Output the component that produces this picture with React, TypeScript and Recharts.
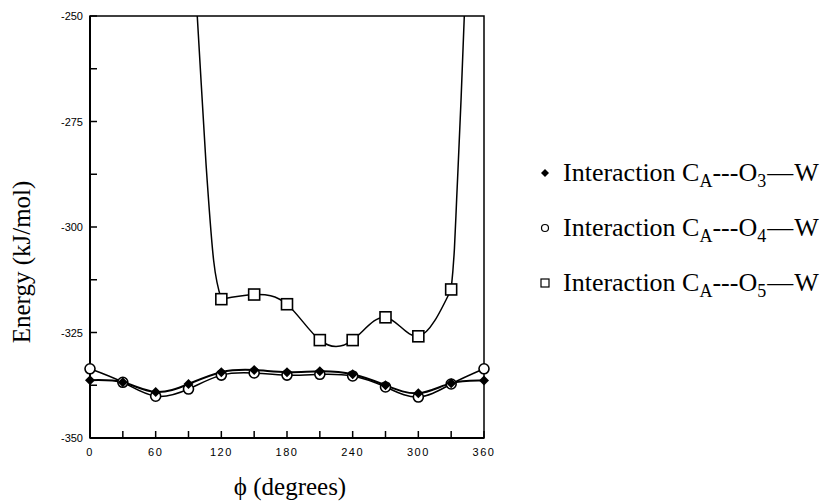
import React from 'react'
import { LineChart, Line, XAxis, YAxis, ReferenceArea } from 'recharts'

// dihedral angle (degrees)
const PHI = [0, 30, 60, 90, 120, 150, 180, 210, 240, 270, 300, 330, 360]
const O3_W = [-336.3, -336.8, -339.1, -337.2, -334.4, -333.9, -334.4, -334.2, -334.9, -337.5, -339.4, -337.0, -336.4]
const O4_W = [-333.6, -336.8, -340.1, -338.4, -335.1, -334.6, -335.1, -334.9, -335.3, -337.9, -340.3, -337.2, -333.6]

const O5_PHI = [120, 150, 180, 210, 240, 270, 300, 330]
const O5_W = [-317.1, -316.0, -318.3, -326.8, -326.8, -321.4, -325.9, -314.8]

// steep repulsive walls of the O5 curve, running off the top of the frame
const WALL_LEFT_PHI = [96, 98, 106, 113, 120]
const WALL_LEFT = [-242, -250, -285, -308, -317.1]
const WALL_RIGHT_PHI = [330, 333, 335, 339, 342, 344]
const WALL_RIGHT = [-314.8, -305, -293.5, -270, -250, -235]

const X_TICKS = [0, 30, 60, 90, 120, 150, 180, 210, 240, 270, 300, 330, 360]
const X_LABELS = [0, 60, 120, 180, 240, 300, 360]
const Y_TICKS = [-350, -337.5, -325, -312.5, -300, -287.5, -275, -262.5, -250]
const Y_LABELS = [-350, -325, -300, -275, -250]

const W = 827
const H = 501
const PLOT_LEFT = 90
const PLOT_RIGHT = 484
const PLOT_TOP = 16
const PLOT_BOTTOM = 438

const SERIF = '"Liberation Serif", "Times New Roman", serif'
const SANS = '"Liberation Sans", Arial, sans-serif'

const o3Data = PHI.map((p, i) => ({ phi: p, v: O3_W[i] }))
const o4Data = PHI.map((p, i) => ({ phi: p, v: O4_W[i] }))
const o5Data = O5_PHI.map((p, i) => ({ phi: p, v: O5_W[i] }))
const wallLeft = WALL_LEFT_PHI.map((p, i) => ({ phi: p, v: WALL_LEFT[i] }))
const wallRight = WALL_RIGHT_PHI.map((p, i) => ({ phi: p, v: WALL_RIGHT[i] }))

const YTick = (props: any) => {
  const { y, payload } = props
  const show = Y_LABELS.includes(payload.value)
  return (
    <g>
      <line x1={PLOT_LEFT} x2={PLOT_LEFT + 7} y1={y} y2={y} stroke="#000" strokeWidth={1.5} />
      {show && (
        <text x={PLOT_LEFT - 7} y={y + 4} textAnchor="end" fontSize={11} fontFamily={SANS} fill="#000">
          {payload.value}
        </text>
      )}
    </g>
  )
}

const XTick = (props: any) => {
  const { x, payload } = props
  const show = X_LABELS.includes(payload.value)
  return (
    <g>
      <line x1={x} x2={x} y1={PLOT_BOTTOM} y2={PLOT_BOTTOM - 7} stroke="#000" strokeWidth={1.5} />
      {show && (
        <text x={x} y={PLOT_BOTTOM + 18} textAnchor="middle" fontSize={11} fontFamily={SANS} letterSpacing={1.5} fill="#000">
          {payload.value}
        </text>
      )}
    </g>
  )
}

const XLabel = () => (
  <text x={290} y={495} textAnchor="middle" fontSize={25} fontFamily={SERIF} fill="#000">
    ϕ (degrees)
  </text>
)

const YLabel = () => (
  <text x={30} y={262} transform="rotate(-90 30 262)" textAnchor="middle" fontSize={25} fontFamily={SERIF} fill="#000">
    Energy (kJ/mol)
  </text>
)

const Diamond = (props: any) => {
  const { cx, cy, index } = props
  if (cx == null || cy == null) return <g key={index} />
  const s = 5
  return <polygon key={index} points={`${cx},${cy - s} ${cx + s},${cy} ${cx},${cy + s} ${cx - s},${cy}`} fill="#000" />
}

const Ring = (props: any) => {
  const { cx, cy, index } = props
  if (cx == null || cy == null) return <g key={index} />
  return <circle key={index} cx={cx} cy={cy} r={5} fill="#fff" stroke="#000" strokeWidth={1.6} />
}

const Square = (props: any) => {
  const { cx, cy, index } = props
  if (cx == null || cy == null) return <g key={index} />
  return <rect key={index} x={cx - 5.5} y={cy - 5.5} width={11} height={11} fill="#fff" stroke="#000" strokeWidth={1.6} />
}

const legendRows = [
  { sub: '3', mark: <polygon points="5,1 9,5 5,9 1,5" fill="#000" /> },
  { sub: '4', mark: <circle cx={5} cy={5} r={3.5} fill="none" stroke="#000" strokeWidth={1.2} /> },
  { sub: '5', mark: <rect x={1} y={1} width={8} height={8} fill="none" stroke="#000" strokeWidth={1.2} /> },
]

const subStyle = { fontSize: 18, position: 'relative' as const, top: 6, lineHeight: 0 }

export default function App() {
  return (
    <div style={{ position: 'absolute', left: 0, top: 0, width: W, height: H, background: '#fff' }}>
      <LineChart width={W} height={H} margin={{ top: PLOT_TOP, right: W - PLOT_RIGHT, bottom: 0, left: 0 }}>
        <XAxis
          dataKey="phi"
          type="number"
          domain={[0, 360]}
          ticks={X_TICKS}
          interval={0}
          height={H - PLOT_BOTTOM}
          axisLine={{ stroke: '#000', strokeWidth: 2 }}
          tickLine={false}
          tick={<XTick />}
          label={<XLabel />}
        />
        <YAxis
          type="number"
          domain={[-350, -250]}
          allowDataOverflow
          ticks={Y_TICKS}
          interval={0}
          width={PLOT_LEFT}
          axisLine={{ stroke: '#000', strokeWidth: 2 }}
          tickLine={false}
          tick={<YTick />}
          label={<YLabel />}
        />
        <ReferenceArea x1={0} x2={360} y1={-350} y2={-250} fill="none" stroke="#000" strokeWidth={1.5} ifOverflow="visible" />
        <Line data={wallLeft} dataKey="v" type="monotone" stroke="#000" strokeWidth={1.5} dot={false} isAnimationActive={false} />
        <Line data={wallRight} dataKey="v" type="monotone" stroke="#000" strokeWidth={1.5} dot={false} isAnimationActive={false} />
        <Line data={o5Data} dataKey="v" type="natural" stroke="#000" strokeWidth={1.5} dot={<Square />} isAnimationActive={false} />
        <Line data={o4Data} dataKey="v" type="natural" stroke="#000" strokeWidth={1.5} dot={<Ring />} isAnimationActive={false} />
        <Line data={o3Data} dataKey="v" type="natural" stroke="#000" strokeWidth={2} dot={<Diamond />} isAnimationActive={false} />
      </LineChart>
      <div style={{ position: 'absolute', left: 540, top: 145, fontFamily: SERIF, fontSize: 26, color: '#000' }}>
        {legendRows.map((r) => (
          <div key={r.sub} style={{ whiteSpace: 'nowrap', display: 'flex', alignItems: 'center', height: 55 }}>
            <svg width={10} height={10} style={{ marginRight: 13 }}>
              {r.mark}
            </svg>
            <span style={{ lineHeight: '30px' }}>
              Interaction C<span style={subStyle}>A</span>---O<span style={subStyle}>{r.sub}</span>
              <span style={{ margin: '0 1px' }}>—</span>W
            </span>
          </div>
        ))}
      </div>
    </div>
  )
}
